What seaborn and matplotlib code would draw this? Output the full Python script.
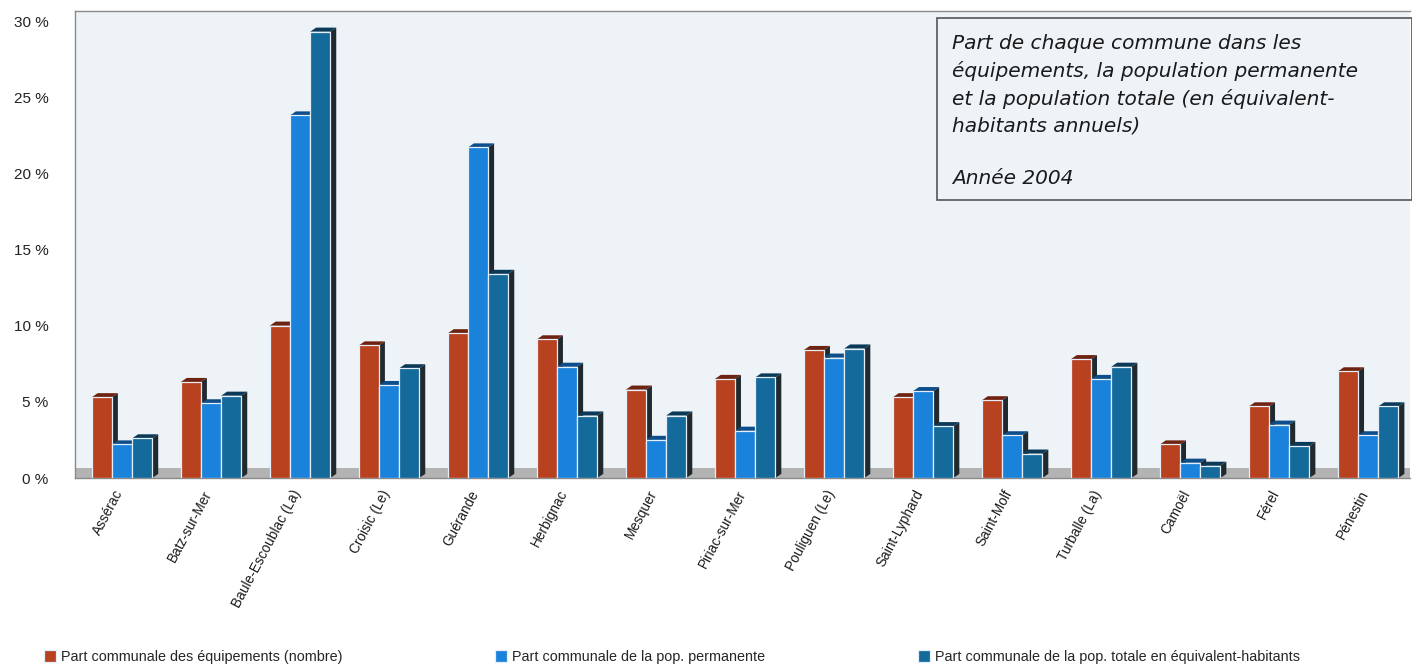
import matplotlib
matplotlib.use("Agg")
import matplotlib.pyplot as plt
import matplotlib.transforms as mtransforms
import seaborn as sns
import pandas as pd
from matplotlib.patches import Polygon, Rectangle
from matplotlib.ticker import FuncFormatter

# ---------------- data ----------------
communes = ["Assérac", "Batz-sur-Mer", "Baule-Escoublac (La)", "Croisic (Le)",
            "Guérande", "Herbignac", "Mesquer", "Piriac-sur-Mer", "Pouliguen (Le)",
            "Saint-Lyphard", "Saint-Molf", "Turballe (La)", "Camoël", "Férel", "Pénestin"]
equipements = [5.3, 6.3, 10.0, 8.7, 9.5, 9.1, 5.8, 6.5, 8.4, 5.3, 5.1, 7.8, 2.2, 4.7, 7.0]
pop_permanente = [2.2, 4.9, 23.8, 6.1, 21.7, 7.3, 2.5, 3.1, 7.9, 5.7, 2.8, 6.5, 1.0, 3.5, 2.8]
pop_totale = [2.6, 5.4, 29.3, 7.2, 13.4, 4.1, 4.1, 6.6, 8.5, 3.4, 1.6, 7.3, 0.8, 2.1, 4.7]
series = ["Part communale des équipements (nombre)",
          "Part communale de la pop. permanente",
          "Part communale de la pop. totale en équivalent-habitants"]
y_ticks = [0, 5, 10, 15, 20, 25, 30]
note = ("Part de chaque commune dans les\néquipements, la population permanente\n"
        "et la population totale (en équivalent-\nhabitants annuels)\n\nAnnée 2004")

colors = ["#b8411f", "#1b82dc", "#156a9c"]
top_colors = ["#6e2210", "#0c4d8a", "#0b3a58"]
side_color = "#20292e"

df = pd.DataFrame({"Commune": communes,
                   series[0]: equipements,
                   series[1]: pop_permanente,
                   series[2]: pop_totale})
long = df.melt(id_vars="Commune", var_name="Série", value_name="Valeur")

# ---------------- figure ----------------
sns.set_theme(style="white")
plt.rcParams['font.family'] = ['Liberation Sans', 'DejaVu Sans']

W, H = 1412, 665
fig = plt.figure(figsize=(W / 100, H / 100), dpi=100)
fig.patch.set_facecolor("white")
ax = fig.add_axes([75 / W, 1 - 478 / H, (1410 - 75) / W, (478 - 11) / H])
ax.set_facecolor("#eef3f8")

sns.barplot(data=long, x="Commune", y="Valeur", hue="Série", order=communes,
            hue_order=series, palette=colors, saturation=1, width=0.68,
            edgecolor="#e4eef9", linewidth=0.9, ax=ax, zorder=3)

ax.set_xlim(-0.528, 14.47)
ax.set_ylim(0, 30.66)

# floor band
ax.axhspan(0, 0.65, color="#b3b3b3", zorder=0.5, lw=0)

# pseudo-3D sides and tops derived from the bar patches
dx, dy = 0.067, 0.27
for ci, cont in enumerate(ax.containers):
    for r in cont.patches:
        x0, w, h = r.get_x(), r.get_width(), r.get_height()
        x1 = x0 + w
        side = Polygon([(x1, 0), (x1 + dx, dy), (x1 + dx, h + dy), (x1, h)],
                       closed=True, facecolor=side_color, edgecolor="none", zorder=2.5)
        top = Polygon([(x0, h), (x0 + dx, h + dy), (x1 + dx, h + dy), (x1, h)],
                      closed=True, facecolor=top_colors[ci], edgecolor="none", zorder=2.5)
        ax.add_patch(side)
        ax.add_patch(top)

# axes styling
ax.set_xlabel("")
ax.set_ylabel("")
ax.set_yticks(y_ticks)
ax.yaxis.set_major_formatter(FuncFormatter(lambda v, p: f"{int(v)} %"))
ax.tick_params(axis="y", length=0, pad=19, labelsize=11, labelcolor="#222222")
ax.tick_params(axis="x", length=0, pad=7, labelsize=9.8, labelcolor="#1a1a1a")
offset = mtransforms.ScaledTranslation(-0.09, 0, fig.dpi_scale_trans)
for lab in ax.get_xticklabels():
    lab.set_rotation(62)
    lab.set_ha("right")
    lab.set_rotation_mode("anchor")
    lab.set_transform(lab.get_transform() + offset)

for s in ["left", "bottom", "top"]:
    ax.spines[s].set_color("#8a8a8a")
    ax.spines[s].set_linewidth(1.0)
ax.spines["right"].set_visible(False)

# legend
handles, labels = ax.get_legend_handles_labels()
ax.get_legend().remove()
fig.legend(handles, labels, loc="center left", bbox_to_anchor=(44 / W, 1 - 657 / H),
           ncol=3, frameon=False, fontsize=10.4, handlelength=0.85, handleheight=0.85,
           handletextpad=0.3, columnspacing=10.6, borderpad=0, borderaxespad=0)

# note box
fig.patches.append(Rectangle((937 / W, 1 - 200 / H), (W - 937) / W, (200 - 18) / H,
                             transform=fig.transFigure, fill=False,
                             edgecolor="#555555", lw=1.2, zorder=5))
fig.text(952 / W, 1 - 34 / H, note, ha="left", va="top", fontsize=14.5,
         family=["DejaVu Sans"], style="italic", linespacing=1.5, color="#1a1a1a")

fig.savefig("out.png", dpi=100)
